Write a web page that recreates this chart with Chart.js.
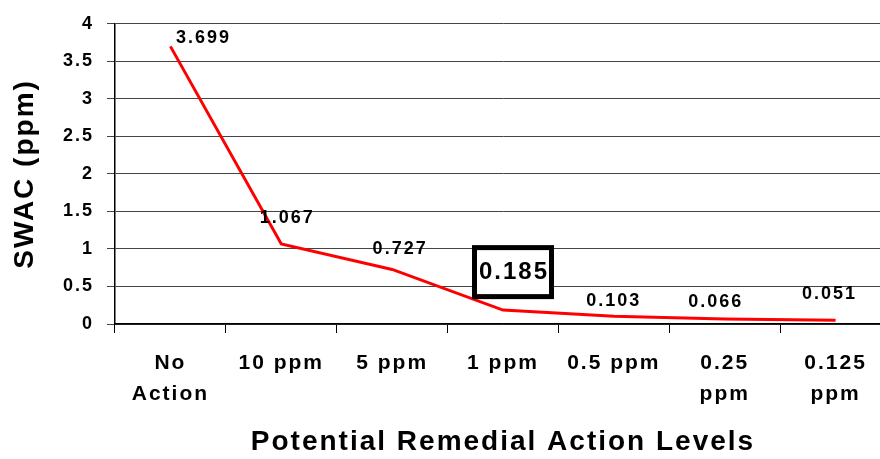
<!DOCTYPE html>
<html>
<head>
<meta charset="utf-8">
<script src="https://cdn.jsdelivr.net/npm/chart.js@4/dist/chart.umd.min.js"></script>
<style>
    html, body { margin: 0; padding: 0; background: #fff; overflow: hidden; }
    /* canvas is a bit wider than the window: the last category runs past the right edge */
    #wrap { width: 880px; height: 459px; overflow: hidden; }
    canvas { display: block; }
</style>
</head>
<body>
<div id="wrap"><canvas id="swacChart" width="891" height="459"></canvas></div>
<script>
// Data
const LEVELS = [['No', 'Action'], '10 ppm', '5 ppm', '1 ppm', '0.5 ppm', ['0.25', 'ppm'], ['0.125', 'ppm']];
const SWAC = [3.699, 1.067, 0.727, 0.185, 0.103, 0.066, 0.051];
const Y_MIN = 0;
const Y_MAX = 4;
const Y_STEP = 0.5;
const HIGHLIGHT = 3; // the boxed value

const FONT = '"Liberation Sans", Arial, sans-serif';

// Reference text is spaced out a little, so set letter spacing on the context
const letterSpacing = {
    id: 'letterSpacing',
    beforeUpdate(chart) { chart.ctx.letterSpacing = '2px'; },
    beforeDraw(chart) { chart.ctx.letterSpacing = '2px'; }
};

// Value labels above each point, one of them boxed
const valueLabels = {
    id: 'valueLabels',
    afterDatasetsDraw(chart, args, opts) {
        const ctx = chart.ctx;
        const meta = chart.getDatasetMeta(0);
        const values = chart.data.datasets[0].data;
        ctx.save();
        ctx.letterSpacing = '2px';
        ctx.textAlign = 'center';
        ctx.textBaseline = 'middle';
        meta.data.forEach((pt, i) => {
            const off = opts.offsets[i];
            const x = pt.x + off[0];
            const y = pt.y + off[1];
            const text = values[i].toFixed(3);
            if (i === opts.highlight) {
                ctx.fillStyle = '#fff';
                ctx.fillRect(x - 38.5, y - 24.5, 77, 49);
                ctx.lineWidth = 5;
                ctx.strokeStyle = '#000';
                ctx.strokeRect(x - 38.5, y - 24.5, 77, 49);
                ctx.font = 'bold 24px ' + FONT;
            } else {
                ctx.font = 'bold 18px ' + FONT;
            }
            ctx.fillStyle = '#000';
            ctx.fillText(text, x + 1, y);
        });
        ctx.restore();
    }
};

new Chart(document.getElementById('swacChart').getContext('2d'), {
    type: 'line',
    data: {
        labels: LEVELS,
        datasets: [{
            data: SWAC,
            borderColor: '#ff0000',
            borderWidth: 3,
            pointRadius: 0,
            tension: 0,
            fill: false
        }]
    },
    options: {
        responsive: false,
        animation: false,
        devicePixelRatio: 1,
        layout: {
            padding: { top: 16, left: 0, right: 0, bottom: 0 }
        },
        plugins: {
            legend: { display: false },
            tooltip: { enabled: false },
            valueLabels: {
                highlight: HIGHLIGHT,
                offsets: [[32, -8], [5, -26], [7, -20], [10, -38], [-1, -15], [-10, -17], [-7, -26]]
            }
        },
        scales: {
            x: {
                offset: true,
                grid: {
                    offset: true,
                    drawOnChartArea: false,
                    drawTicks: true,
                    tickLength: 9,
                    color: '#000'
                },
                border: { color: '#000', width: 1.5 },
                ticks: {
                    color: '#000',
                    maxRotation: 0,
                    autoSkip: false,
                    padding: 14.5,
                    font: { family: FONT, size: 21, weight: 'bold', lineHeight: 1.476 }
                },
                title: {
                    display: true,
                    text: 'Potential Remedial Action Levels',
                    color: '#000',
                    padding: { top: 0, bottom: 0 },
                    font: { family: FONT, size: 28, weight: 'bold' }
                },
                afterFit(scale) { scale.height = 135; }
            },
            y: {
                min: Y_MIN,
                max: Y_MAX,
                ticks: {
                    stepSize: Y_STEP,
                    color: '#000',
                    padding: 13,
                    font: { family: FONT, size: 18, weight: 'bold' },
                    callback: value => String(value)
                },
                grid: {
                    color: '#444',
                    lineWidth: 1,
                    tickLength: 8
                },
                border: { color: '#000', width: 1.5 },
                title: {
                    display: true,
                    text: 'SWAC (ppm)',
                    color: '#000',
                    padding: { top: 8, bottom: 0 },
                    font: { family: FONT, size: 28, weight: 'bold' }
                },
                afterFit(scale) { scale.width = 115; }
            }
        }
    },
    plugins: [letterSpacing, valueLabels]
});
</script>
</body>
</html>
